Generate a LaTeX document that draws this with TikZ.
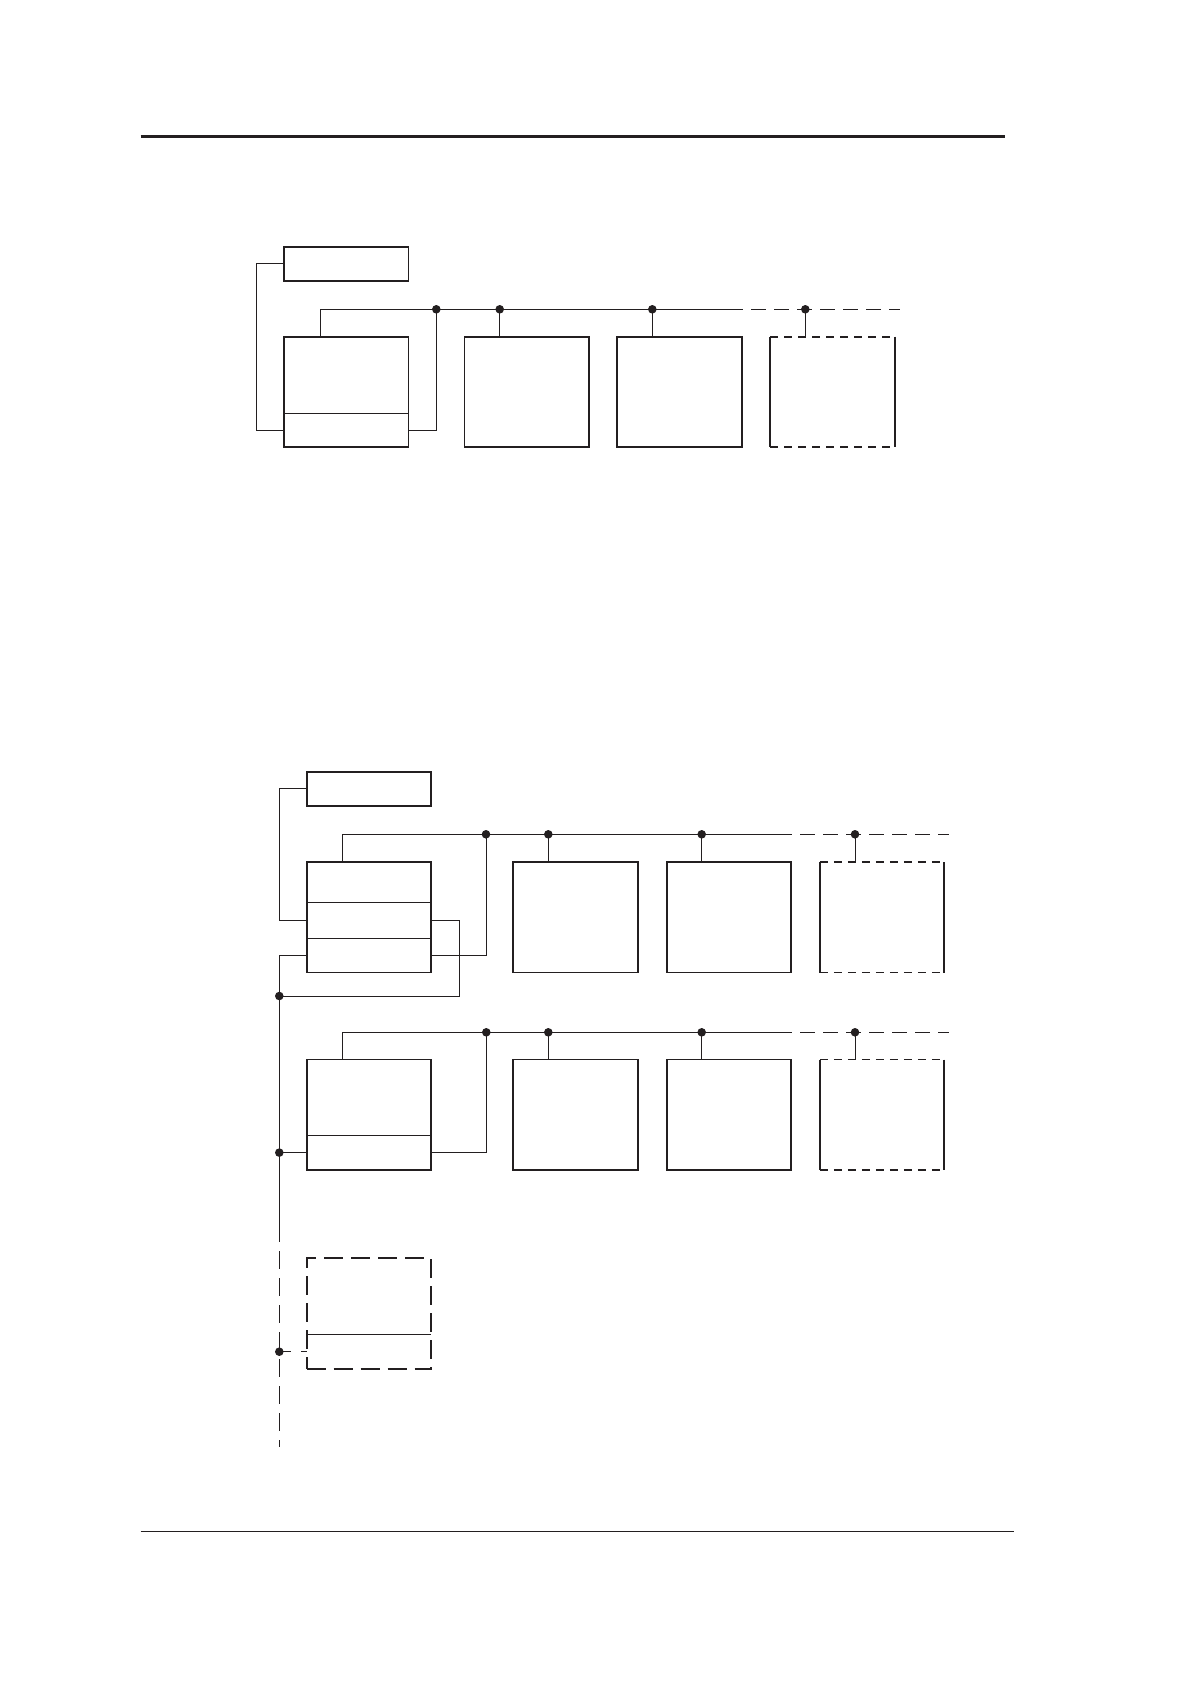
\documentclass[tikz,border=0pt]{standalone}
\usepackage{tikz}

\definecolor{ink}{HTML}{231F20}

\begin{document}
\begin{tikzpicture}
[x=1pt, y=1pt, every node/.style={inner sep=0pt, outer sep=0pt},
 keybox/.style={rectangle, minimum width=124.5pt, minimum height=34pt, line width=1.7pt, draw=ink},
 unitbox/.style={rectangle, minimum width=124.5pt, minimum height=110.6pt, line width=1.7pt, draw=ink},
 ghostbox/.style={rectangle, minimum width=124.5pt, minimum height=110.6pt},
 rowbox/.style={rectangle, minimum width=124.5pt, minimum height=34pt},
 wire/.style={line width=1pt, color=ink},
 busdash/.style={dash pattern=on 15pt off 8pt, dash phase=15pt},
 edge/.style={line width=1.7pt, color=ink}]
\useasboundingbox (0,0) rectangle (1190,-1684);
% page rules
\draw [line width=3pt, ink] (140.7,-136.7) -- (1005,-136.7);
\draw [line width=1.3pt, ink] (140.7,-1531.3) -- (1014,-1531.3);

% upper figure
\node (topkey) [keybox] at (346.3,-263.8) {};
\node (top1) [unitbox] at (346.3,-392) {};
\node (top1low) [rowbox] at (346.3,-430.3) {};
\node (top2) [unitbox] at (526.7,-392) {};
\node (top3) [unitbox] at (679.5,-392) {};
\node (top4) [ghostbox] at (832.5,-392) {};
\coordinate (tj0) at (436.3,-309.3);
\coordinate (tj1) at (499.7,-309.3);
\coordinate (tj2) at (652.3,-309.3);
\coordinate (tj3) at (805.3,-309.3);
\coordinate (tbreak) at (743,-309.3);
\coordinate (tend) at (900,-309.3);
\draw [edge] (top4.north west) -- (top4.south west) (top4.north east) -- (top4.south east);
\draw [edge, dash pattern=on 8pt off 6pt] (top4.north west) -- (top4.north east) (top4.south west) -- (top4.south east);
\draw [wire] (top1low.north west) -- (top1low.north east);
\draw [wire] ([xshift=36pt]top1.north west) |- (tbreak);
\draw [wire, busdash] (tbreak) -- (tend);
\draw [wire] (topkey.west) -- ++(-28,0) |- (top1low.west);
\draw [wire] (top1low.east) -| (tj0);
\draw [wire] (tj1) -- (tj1 |- top2.north);
\draw [wire] (tj2) -- (tj2 |- top3.north);
\draw [wire] (tj3) -- (tj3 |- top4.north);
\foreach \j in {tj0,tj1,tj2,tj3}
  \fill [ink] (\j) circle (4.3pt);

% lower figure, first row
\node (lowkey) [keybox] at (368.9,-788.9) {};
\node (low1) [unitbox] at (368.9,-917.3) {};
\node (low1mid) [rowbox, minimum height=36pt] at (368.9,-920.7) {};
\node (low1bot) [rowbox] at (368.9,-955.6) {};
\node (low2) [unitbox] at (575.5,-917.3) {};
\node (low3) [unitbox] at (729,-917.3) {};
\node (low4) [ghostbox] at (882,-917.3) {};
\coordinate (lj0) at (486,-834.3);
\coordinate (lj1) at (548.3,-834.3);
\coordinate (lj2) at (701.7,-834.3);
\coordinate (lj3) at (855,-834.3);
\coordinate (lbreak) at (792,-834.3);
\coordinate (lend) at (949,-834.3);
\draw [edge] (low4.north west) -- (low4.south west) (low4.north east) -- (low4.south east);
\draw [edge, dash pattern=on 8pt off 6pt] (low4.north west) -- (low4.north east) (low4.south west) -- (low4.south east);
\draw [wire] (low1mid.north west) -- (low1mid.north east);
\draw [wire] (low1bot.north west) -- (low1bot.north east);
\draw [wire] ([xshift=36pt]low1.north west) |- (lbreak);
\draw [wire, busdash] (lbreak) -- (lend);
\draw [wire] (lj1) -- (lj1 |- low2.north);
\draw [wire] (lj2) -- (lj2 |- low3.north);
\draw [wire] (lj3) -- (lj3 |- low4.north);

% lower figure, second row
\node (mid1) [unitbox] at (368.9,-1114.9) {};
\node (mid1bot) [rowbox] at (368.9,-1152.6) {};
\node (mid2) [unitbox] at (575.5,-1114.9) {};
\node (mid3) [unitbox] at (729,-1114.9) {};
\node (mid4) [ghostbox] at (882,-1114.9) {};
\coordinate (mj0) at (486.3,-1032.3);
\coordinate (mj1) at (548.3,-1032.3);
\coordinate (mj2) at (701.7,-1032.3);
\coordinate (mj3) at (855,-1032.3);
\coordinate (mbreak) at (792,-1032.3);
\coordinate (mend) at (949,-1032.3);
\draw [edge] (mid4.north west) -- (mid4.south west) (mid4.north east) -- (mid4.south east);
\draw [edge, dash pattern=on 8pt off 6pt] (mid4.north west) -- (mid4.north east) (mid4.south west) -- (mid4.south east);
\draw [wire] (mid1bot.north west) -- (mid1bot.north east);
\draw [wire] ([xshift=36pt]mid1.north west) |- (mbreak);
\draw [wire, busdash] (mbreak) -- (mend);
\draw [wire] (mj1) -- (mj1 |- mid2.north);
\draw [wire] (mj2) -- (mj2 |- mid3.north);
\draw [wire] (mj3) -- (mj3 |- mid4.north);
\draw [wire] (mid1bot.east) -| (mj0);

% spare unit
\node (spare) [rectangle, minimum width=124.5pt, minimum height=111pt, line width=1.7pt, draw=ink, dash pattern=on 19pt off 8pt] at (368.9,-1313.5) {};
\node (sparebot) [rowbox, minimum height=34.6pt] at (368.9,-1351.7) {};
\draw [wire] (sparebot.north west) -- (sparebot.north east);

% common line on the left
\coordinate (sj0) at (279.3,-996);
\coordinate (sj1) at (279.3,-1152.6);
\coordinate (sj2) at (279.3,-1351.7);
\coordinate (sbreak) at (279.3,-1242);
\coordinate (send) at (279.3,-1447);
\draw [wire] (lowkey.west) -- ++(-27.6,0) |- (low1mid.west);
\draw [wire] (low1mid.east) -- ++(28.3,0) |- (sj0);
\draw [wire] (low1bot.east) -| (lj0);
\draw [wire] (low1bot.west) -| (sbreak);
\draw [wire, dash pattern=on 18pt off 9pt, dash phase=18pt] (sbreak) -- (send);
\draw [wire] (mid1bot.west) -- (sj1);
\draw [wire, dash pattern=on 12pt off 10pt] (sj2) -- (sparebot.west);
\foreach \j in {lj0,lj1,lj2,lj3,mj0,mj1,mj2,mj3,sj0,sj1,sj2}
  \fill [ink] (\j) circle (4.3pt);
\end{tikzpicture}
\end{document}
